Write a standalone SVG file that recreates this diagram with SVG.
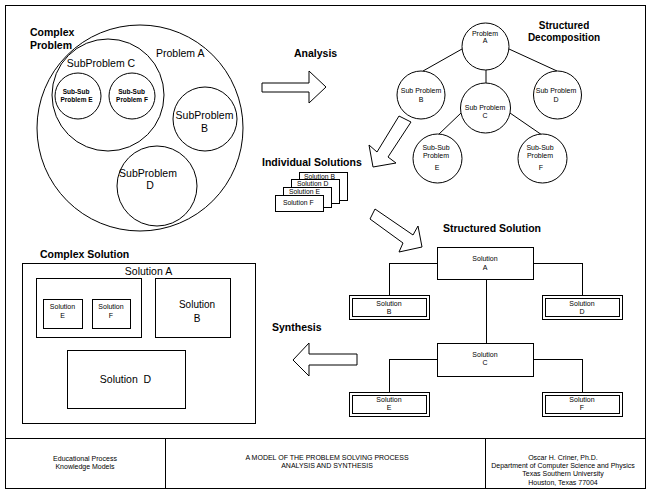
<svg xmlns="http://www.w3.org/2000/svg" width="654" height="495" viewBox="0 0 654 495">
<style>
.s{fill:none;stroke:#000;stroke-width:1}
.w{fill:#fff;stroke:#000;stroke-width:1}
.c{shape-rendering:crispEdges}
text{font-family:"Liberation Sans",Arial,sans-serif;fill:#000}
.h{font-size:10.5px;font-weight:bold}
.n{font-size:10.5px}
.m{font-size:10px}
.t{font-size:7px;text-anchor:middle}
.tb{font-size:6.5px;font-weight:bold;text-anchor:middle}
.k{font-size:6.8px}
.f{font-size:7px;text-anchor:middle}
.mid{text-anchor:middle}
</style>
<rect width="654" height="495" fill="#fff"/>
<g id="frame" class="c">
<rect x="5.5" y="5.5" width="640" height="483" class="s"/>
<line x1="5" y1="438.5" x2="646" y2="438.5" class="s"/>
<line x1="165.5" y1="438" x2="165.5" y2="489" class="s"/>
<line x1="485.5" y1="438" x2="485.5" y2="489" class="s"/>
</g>
<g id="footer">
<text class="f" x="85" y="461">Educational Process</text>
<text class="f" x="85" y="469">Knowledge Models</text>
<text class="f" x="327" y="460">A MODEL OF THE PROBLEM SOLVING PROCESS</text>
<text class="f" x="327" y="468">ANALYSIS AND SYNTHESIS</text>
<text class="f" x="563" y="460">Oscar H. Criner, Ph.D.</text>
<text class="f" x="563" y="468">Department of Computer Science and Physics</text>
<text class="f" x="563" y="476">Texas Southern University</text>
<text class="f" x="563" y="485">Houston, Texas 77004</text>
</g>
<g id="complex-problem">
<circle id="problemA" cx="140" cy="128" r="103" class="s"/>
<circle id="subC" cx="108" cy="95" r="56" class="s"/>
<circle id="subsubE" cx="78" cy="96" r="23" class="s"/>
<circle id="subsubF" cx="132" cy="96" r="23" class="s"/>
<circle id="subB" cx="205" cy="119" r="32" class="s"/>
<circle id="subD" cx="157" cy="186" r="40" class="s"/>
<text class="h" x="30" y="36">Complex</text>
<text class="h" x="30" y="49">Problem</text>
<text class="n" x="156" y="57">Problem  A</text>
<text class="n mid" x="101" y="67">SubProblem  C</text>
<text class="tb" x="76" y="93.5">Sub-Sub</text>
<text class="tb" x="76.5" y="102">Problem E</text>
<text class="tb" x="131.5" y="93.5">Sub-Sub</text>
<text class="tb" x="132" y="102">Problem F</text>
<text class="n mid" x="204.5" y="119">SubProblem</text>
<text class="n mid" x="204.5" y="132">B</text>
<text class="n mid" x="148" y="177">SubProblem</text>
<text class="n mid" x="150" y="189">D</text>
</g>
<g id="analysis">
<text class="h" x="294" y="57">Analysis</text>
<polygon points="262,83 309,83 309,71 326,87 309,103 309,92 262,92" class="s"/>
</g>
<g id="decomposition-title">
<text class="h mid" x="564" y="29" style="font-size:10px">Structured</text>
<text class="h mid" x="564" y="41" style="font-size:10px">Decomposition</text>
</g>
<g id="connectors" class="s">
<line x1="462" y1="49" x2="423" y2="71"/>
<line x1="509" y1="49" x2="557" y2="71"/>
<line x1="486" y1="70" x2="486" y2="83"/>
<line x1="461" y1="113" x2="438" y2="135"/>
<line x1="510" y1="113" x2="542" y2="135"/>
<g class="c">
<polyline points="437,263.5 389.5,263.5 389.5,295"/>
<polyline points="533,263.5 582.5,263.5 582.5,295"/>
<line x1="486.5" y1="279" x2="486.5" y2="343"/>
<polyline points="437,359.5 389.5,359.5 389.5,392"/>
<polyline points="533,359.5 582.5,359.5 582.5,392"/>
</g>
</g>
<g id="tree-A"><circle cx="485.5" cy="46.5" r="23.5" class="w"/><text class="t" x="485" y="36">Problem</text><text class="t" x="485" y="43">A</text></g>
<g id="tree-B"><circle cx="421" cy="95" r="24" class="w"/><text class="t" x="421" y="93">Sub Problem</text><text class="t" x="421" y="102">B</text></g>
<g id="tree-C"><circle cx="485.5" cy="108" r="25" class="w"/><text class="t" x="485" y="109.5">Sub Problem</text><text class="t" x="485" y="117.5">C</text></g>
<g id="tree-D"><circle cx="557.5" cy="95" r="24" class="w"/><text class="t" x="556" y="93">Sub Problem</text><text class="t" x="556" y="101.5">D</text></g>
<g id="tree-E"><circle cx="437.5" cy="158.5" r="24.5" class="w"/><text class="t" x="436" y="149.5">Sub-Sub</text><text class="t" x="436" y="157.5">Problem</text><text class="t" x="437" y="170">E</text></g>
<g id="tree-F"><circle cx="542.5" cy="158.5" r="24.5" class="w"/><text class="t" x="540" y="149.5">Sub-Sub</text><text class="t" x="540" y="157.5">Problem</text><text class="t" x="541" y="170">F</text></g>
<g id="arrow-down-left">
<polygon points="399,116 411,122 388,157 396,163 373,167 369,145 377,152" class="s"/>
</g>
<g id="individual-solutions">
<text class="h" x="262" y="166">Individual Solutions</text>
<g class="c">
<rect x="299.5" y="172.5" width="48" height="28" class="w"/>
<rect x="291.5" y="179.5" width="48" height="24" class="w"/>
<rect x="283.5" y="187.5" width="48" height="20" class="w"/>
<rect x="275.5" y="195.5" width="48" height="16" class="w"/>
</g>
<text class="k" x="304" y="178.5">Solution B</text>
<text class="k" x="297" y="186">Solution D</text>
<text class="k" x="289" y="194">Solution E</text>
<text class="k" x="283" y="204.5">Solution F</text>
</g>
<g id="arrow-down-right">
<polygon points="375,209 413,235 418,226 422,247 399,252 403,243 370,219" class="s"/>
</g>
<text class="h" x="443" y="232">Structured Solution</text>
<g id="sol-A"><rect x="437.5" y="247.5" width="96" height="32" class="w c"/><text class="t" x="485" y="260.5">Solution</text><text class="t" x="485" y="269.5">A</text></g>
<g id="sol-B"><rect x="349.5" y="295.5" width="80" height="24" class="w c"/><rect x="352.5" y="298.5" width="74" height="18" class="c" fill="none" stroke="#000" stroke-width="1.5"/><text class="t" x="389" y="305.5">Solution</text><text class="t" x="389" y="313.5">B</text></g>
<g id="sol-D"><rect x="542.5" y="295.5" width="80" height="24" class="w c"/><rect x="545.5" y="298.5" width="74" height="18" class="c" fill="none" stroke="#000" stroke-width="1.5"/><text class="t" x="582" y="305.5">Solution</text><text class="t" x="582" y="313.5">D</text></g>
<g id="sol-C"><rect x="437.5" y="343.5" width="96" height="33" class="w c"/><text class="t" x="485" y="356.5">Solution</text><text class="t" x="485" y="364.5">C</text></g>
<g id="sol-E"><rect x="349.5" y="392.5" width="80" height="24" class="w c"/><rect x="352.5" y="395.5" width="74" height="18" class="c" fill="none" stroke="#000" stroke-width="1.5"/><text class="t" x="389" y="401.5">Solution</text><text class="t" x="389" y="409.5">E</text></g>
<g id="sol-F"><rect x="542.5" y="392.5" width="80" height="24" class="w c"/><rect x="545.5" y="395.5" width="74" height="18" class="c" fill="none" stroke="#000" stroke-width="1.5"/><text class="t" x="582" y="401.5">Solution</text><text class="t" x="582" y="409.5">F</text></g>
<g id="synthesis">
<text class="h" x="272" y="331">Synthesis</text>
<polygon points="357,354 309,354 309,343 293,360 309,376 309,365 357,365" class="s"/>
</g>
<g id="complex-solution">
<text class="h" x="40" y="258">Complex Solution</text>
<g class="c">
<rect x="22.5" y="263.5" width="233" height="160" class="s"/>
<rect x="36.5" y="278.5" width="105" height="59" class="s"/>
<rect x="43.5" y="299.5" width="39" height="29" class="s"/>
<rect x="92.5" y="299.5" width="38" height="29" class="s"/>
<rect x="155.5" y="278.5" width="75" height="59" class="s"/>
<rect x="67.5" y="350.5" width="118" height="58" class="s"/>
</g>
<text class="n mid" x="148.5" y="275">Solution A</text>
<text class="t" x="62.5" y="308.5">Solution</text>
<text class="t" x="62.5" y="317.5">E</text>
<text class="t" x="111" y="308.5">Solution</text>
<text class="t" x="111" y="317.5">F</text>
<text class="m mid" x="197" y="308">Solution</text>
<text class="m mid" x="197" y="322">B</text>
<text class="n mid" x="125.5" y="383" xml:space="preserve">Solution  D</text>
</g>
</svg>
